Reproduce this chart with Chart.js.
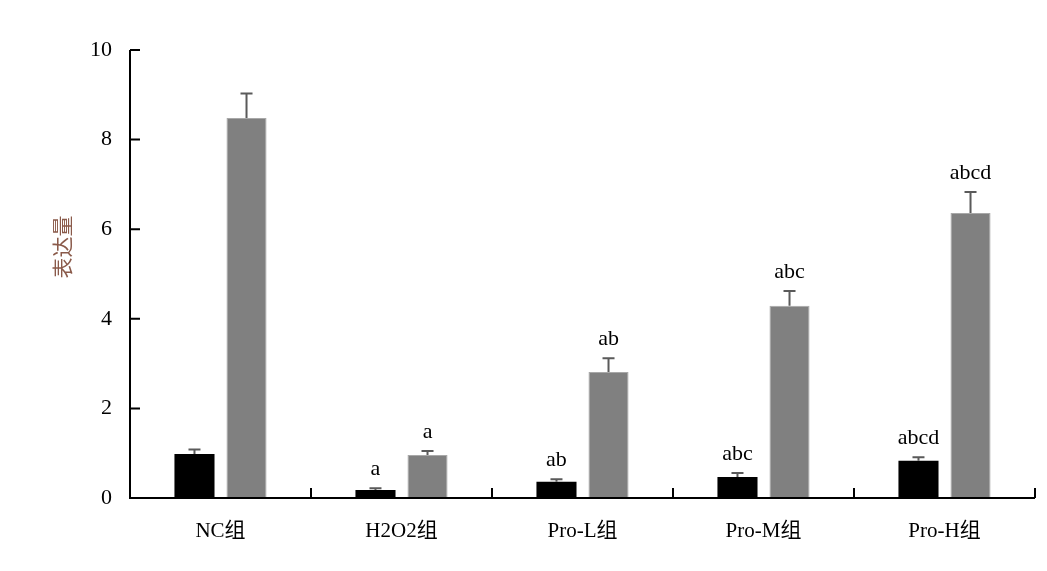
<!DOCTYPE html>
<html><head><meta charset="utf-8">
<script src="https://cdn.jsdelivr.net/npm/chart.js@4/dist/chart.umd.min.js"></script>
<style>html,body{margin:0;padding:0;background:#fff}#wrap{width:1047px;height:571px}</style>
</head><body><div id="wrap"><canvas id="c" width="1047" height="571"></canvas></div>
<script>
const categories = ["NC组", "H2O2组", "Pro-L组", "Pro-M组", "Pro-H组"];
const series1 = [0.98, 0.18, 0.36, 0.47, 0.83];
const series1Err = [0.10, 0.04, 0.06, 0.09, 0.08];
const series2 = [8.48, 0.96, 2.81, 4.29, 6.36];
const series2Err = [0.55, 0.09, 0.31, 0.33, 0.47];
const labels1 = ["", "a", "ab", "abc", "abcd"];
const labels2 = ["", "a", "ab", "abc", "abcd"];
const yTicks = [0, 2, 4, 6, 8, 10];
const yTitle = "表达量";

const FONT = "'Liberation Serif','Times New Roman','Noto Sans CJK SC',serif";

const overlay = {
  id: 'overlay',
  afterDatasetsDraw(chart) {
    const ctx = chart.ctx;
    const x = chart.scales.x, y = chart.scales.y;
    const area = chart.chartArea;
    const errs = [series1Err, series2Err];
    const vals = [series1, series2];
    const labs = [labels1, labels2];
    ctx.save();
    for (let d = 0; d < 2; d++) {
      const meta = chart.getDatasetMeta(d);
      meta.data.forEach((bar, i) => {
        const top = y.getPixelForValue(vals[d][i] + errs[d][i]);
        const base = y.getPixelForValue(vals[d][i]);
        ctx.strokeStyle = '#5a5a5a';
        ctx.lineWidth = 2;
        ctx.beginPath();
        ctx.moveTo(bar.x, base);
        ctx.lineTo(bar.x, top);
        ctx.moveTo(bar.x - 6, top);
        ctx.lineTo(bar.x + 6, top);
        ctx.stroke();
        if (labs[d][i]) {
          ctx.fillStyle = '#000';
          ctx.font = "22px " + FONT;
          ctx.textAlign = 'center';
          ctx.textBaseline = 'alphabetic';
          ctx.fillText(labs[d][i], bar.x, top - 13);
        }
      });
    }
    // y title
    ctx.save();
    ctx.translate(62, y.getPixelForValue(5.6));
    ctx.rotate(-Math.PI / 2);
    ctx.fillStyle = '#8a5a4a';
    ctx.font = "21px 'Noto Sans CJK SC', serif";
    ctx.textAlign = 'center';
    ctx.textBaseline = 'middle';
    ctx.fillText(yTitle, 0, 0);
    ctx.restore();
    // axes
    ctx.strokeStyle = '#000';
    ctx.lineWidth = 2;
    ctx.beginPath();
    ctx.moveTo(area.left, area.top);
    ctx.lineTo(area.left, area.bottom);
    ctx.lineTo(area.right, area.bottom);
    ctx.stroke();
    ctx.beginPath();
    yTicks.forEach(v => {
      const py = y.getPixelForValue(v);
      ctx.moveTo(area.left, py);
      ctx.lineTo(area.left + 10, py);
    });
    for (let i = 0; i <= categories.length; i++) {
      let px;
      if (i === 0) px = area.left;
      else if (i === categories.length) px = area.right;
      else px = (x.getPixelForValue(i - 1) + x.getPixelForValue(i)) / 2;
      ctx.moveTo(px, area.bottom);
      ctx.lineTo(px, area.bottom - 10);
    }
    ctx.stroke();
    ctx.restore();
  }
};

new Chart(document.getElementById('c'), {
  type: 'bar',
  data: {
    labels: categories,
    datasets: [
      { data: series1, backgroundColor: '#000000', borderWidth: 0, barPercentage: 0.77, categoryPercentage: 0.575 },
      { data: series2, backgroundColor: '#808080', borderColor: '#a8a8a8', borderWidth: 1, barPercentage: 0.77, categoryPercentage: 0.575 }
    ]
  },
  options: {
    responsive: false,
    animation: false,
    events: [],
    layout: { padding: { left: 0, right: 12, top: 50, bottom: 0 } },
    plugins: { legend: { display: false }, tooltip: { enabled: false } },
    scales: {
      x: {
        grid: { display: false, drawTicks: false },
        border: { display: false },
        ticks: { color: '#000', font: { size: 21, family: FONT }, padding: 21 },
        afterFit(s) { s.height = 73; }
      },
      y: {
        min: 0, max: 10,
        afterBuildTicks(s) { s.ticks = yTicks.map(v => ({ value: v })); },
        grid: { display: false, drawTicks: false },
        border: { display: false },
        ticks: { color: '#000', font: { size: 22, family: FONT }, padding: 18 },
        title: { display: false },
        afterFit(s) { s.width = 130; }
      }
    }
  },
  plugins: [overlay]
});
</script>
</body></html>
